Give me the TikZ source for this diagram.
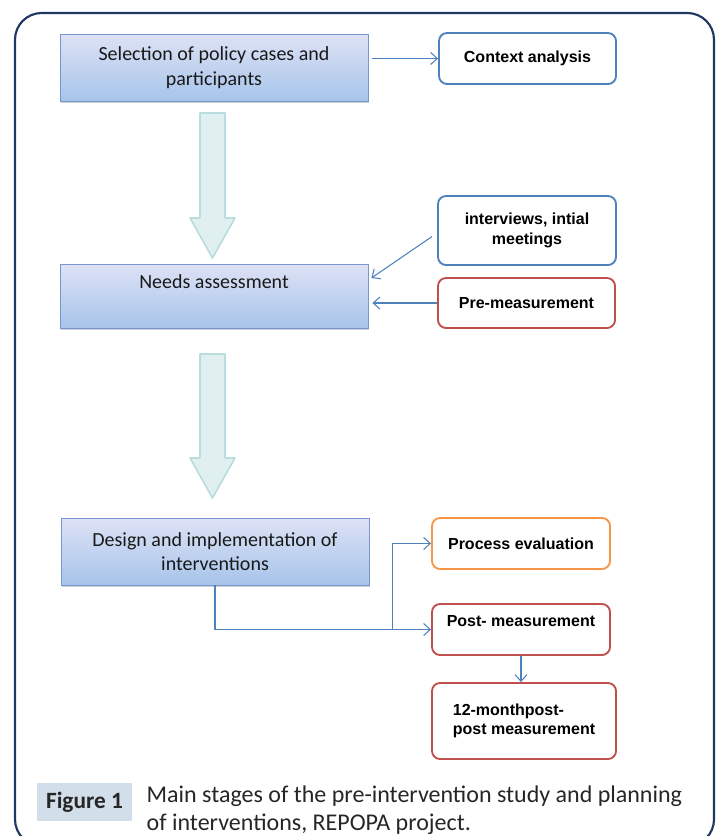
\documentclass[tikz,border=0pt]{standalone}
\usepackage{fontspec}
\usepackage{xcolor}
\setmainfont{Carlito}
\newfontfamily\boxfont{Liberation Sans}
\usetikzlibrary{arrows.meta,shadows,calc}

\definecolor{frameblue}{RGB}{31,56,96}
\definecolor{stagetop}{RGB}{222,226,245}
\definecolor{stagebot}{RGB}{166,196,234}
\definecolor{stageline}{RGB}{120,150,205}
\definecolor{linkblue}{RGB}{79,129,189}
\definecolor{noteblue}{RGB}{79,129,189}
\definecolor{notered}{RGB}{192,80,77}
\definecolor{noteorange}{RGB}{247,150,70}
\definecolor{flowfill}{RGB}{224,240,240}
\definecolor{flowline}{RGB}{185,220,222}
\definecolor{capfill}{RGB}{211,222,235}

\tikzset{
  stage/.style={draw=stageline, line width=0.6pt, top color=stagetop, bottom color=stagebot,
    minimum width=231pt, align=center, text=black!90,
    font=\fontsize{15}{18.5}\selectfont,
    drop shadow={shadow xshift=0.6pt, shadow yshift=-1.8pt, fill=black!30, opacity=0.6}},
  note/.style={draw=#1, line width=1.4pt, rounded corners=6pt, fill=white,
    align=center, font=\boxfont\bfseries\fontsize{12}{14.5}\selectfont},
  link/.style={draw=linkblue, line width=0.8pt, -{Straight Barb[length=5pt,width=9pt]}},
  flow/.style={draw=flowline, fill=flowfill, line width=1.2pt, line join=round},
}

\begin{document}
\begin{tikzpicture}[x=0.75pt,y=0.75pt,yscale=-1,xscale=1]
\useasboundingbox (0,0) rectangle (716,836);

%Shape: Frame
\draw [frameblue, line width=1.6pt, rounded corners=20pt] (15,13) rectangle (714,846) ;

%Shape: Stages
\node [stage, minimum height=50.25pt] (select) at (214,67.5) {Selection of policy cases and\\participants};
\node [stage, minimum height=48pt] (needs) at (214,296) {Needs assessment\\[-2pt]\strut};
\node [stage, minimum height=50.25pt] (design) at (215,551.5) {Design and implementation of\\interventions};

%Shape: Notes
\node [note=noteblue, minimum width=132.75pt, minimum height=38.25pt] (context) at (527.5,58.5) {Context analysis};
\node [note=noteblue, minimum width=133.5pt, minimum height=51.75pt] (interv) at (527,230.5) {interviews, intial\\meetings};
\node [note=notered, minimum width=132.75pt, minimum height=37.5pt] (premeas) at (526.5,303) {Pre-measurement};
\node [note=noteorange, minimum width=133.5pt, minimum height=38.25pt] (process) at (521,543.5) {Process evaluation};
\node [note=notered, minimum width=133.5pt, minimum height=38.25pt] (postmeas) at (521,629.5) {Post- measurement\\[-6pt]\strut};
\node [note=notered, minimum width=138pt, minimum height=57pt, align=left] (latemeas) at (524,721) {12-monthpost-\\post measurement};

%Shape: Block Arrows
\foreach \top/\bot in {113/218, 354/458} {
  \draw [flow] (200,\top) -- (225,\top) -- (225,\bot) -- (235,\bot) -- (212.5,\bot+40) -- (190,\bot) -- (200,\bot) -- cycle ;
}

%Straight Lines
\draw [link] ([xshift=3pt]select.east |- context.west) -- (context.west) ;
\draw [link] ($(interv.west)+(-5,6)$) -- ($(needs.east)+(3,-18)$) ;
\draw [link] (premeas.west) -- ([xshift=3pt]needs.east |- premeas.west) ;
\coordinate (fork) at ($(postmeas.west)+(-39,0)$) ;
\draw [link] (design.south) |- (postmeas.west) ;
\draw [link] (fork) |- (process.west) ;
\draw [link] (postmeas.south) -- (postmeas.south |- latemeas.north) ;

% Text Node
\node [fill=capfill, minimum width=71.25pt, minimum height=28.5pt, font=\bfseries\fontsize{17.5}{20}\selectfont, text=black!85] (figlabel) at (84.5,802) {Figure 1};
% Text Node
\node [anchor=north west, align=left, text=black!85, font=\fontsize{18}{21}\selectfont] (caption) at (142,781) {Main stages of the pre-intervention study and planning\\of interventions, REPOPA project.};
\end{tikzpicture}
\end{document}
